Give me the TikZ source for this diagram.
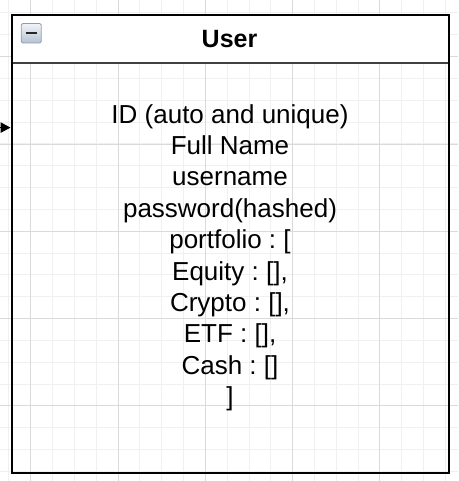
\documentclass[tikz,border=0pt]{standalone}
\usepackage{fontspec}
\setmainfont{Liberation Sans}
\usetikzlibrary{arrows.meta}
\definecolor{gridminor}{HTML}{F0F0F0}
\definecolor{gridmajor}{HTML}{DADADA}
\definecolor{iconborder}{HTML}{8E9EB2}
\definecolor{icontop}{HTML}{F2F4F7}
\definecolor{iconbottom}{HTML}{B4C2D2}
\tikzset{
  minorline/.style={draw=gridminor, line width=1pt},
  majorline/.style={draw=gridmajor, line width=1pt},
  classbox/.style={draw=black, line width=2.2pt, rectangle, inner sep=0pt, anchor=north west},
  headerbox/.style={fill=white, rectangle, inner sep=0pt, anchor=north west},
  bodytext/.style={font=\fontsize{26}{31.4}\selectfont, align=center, inner sep=0pt},
  titletext/.style={font=\fontsize{25}{30}\selectfont\bfseries, inner sep=0pt},
  connector/.style={draw=black, line width=1pt, -{Triangle[length=10pt,width=10.5pt]}},
}
\frenchspacing
\begin{document}
\begin{tikzpicture}[x=1pt,y=-1pt]
\useasboundingbox (0,0) rectangle (458,481);
\clip (0,0) rectangle (458,481);
% grid
\foreach \i in {0,...,21} {
  \draw[minorline] ({8.87+\i*21.83},0) -- ({8.87+\i*21.83},481);
}
\foreach \j in {-1,...,22} {
  \draw[minorline] (0,{13+\j*21.83}) -- (458,{13+\j*21.83});
}
\foreach \i in {0,...,4} {
  \draw[majorline] ({30.7+\i*87.32},0) -- ({30.7+\i*87.32},481);
}
\foreach \j in {0,...,4} {
  \draw[majorline] (0,{56.7+\j*87.32}) -- (458,{56.7+\j*87.32});
}
% header and box
\node[headerbox, minimum width=437.3pt, minimum height=49pt] (header) at (10.5,13.7) {};
\draw[draw=black!75, line width=1.3pt] (header.south west) -- (header.south east);
\node[classbox, minimum width=437.3pt, minimum height=458pt] (user) at (10.5,13.7) {};
% collapse icon
\node[rectangle, rounded corners=1.5pt, draw=iconborder, line width=0.8pt,
      top color=icontop, bottom color=iconbottom, minimum width=20pt, minimum height=19.5pt,
      inner sep=0pt, anchor=north west] (icon) at (20.8,23.1) {};
\draw[draw=black!85, line width=2pt] ([xshift=-5.5pt]icon.center) -- ([xshift=5.5pt]icon.center);
% texts
\node[titletext, anchor=base] (title) at (229.5,48) {User};
\node[bodytext, anchor=north] (fields) at (230,104) {\frenchspacing ID (auto and unique)\\Full Name\\username\\password(hashed)\\portfolio : [\\Equity : [],\\Crypto : [],\\ETF : [],\\Cash : []\\]};
% incoming connector
\coordinate (src) at (-30,127.6);
\coordinate (inport) at (user.west |- src);
\draw[connector] (src) -- (inport);
\end{tikzpicture}
\end{document}
